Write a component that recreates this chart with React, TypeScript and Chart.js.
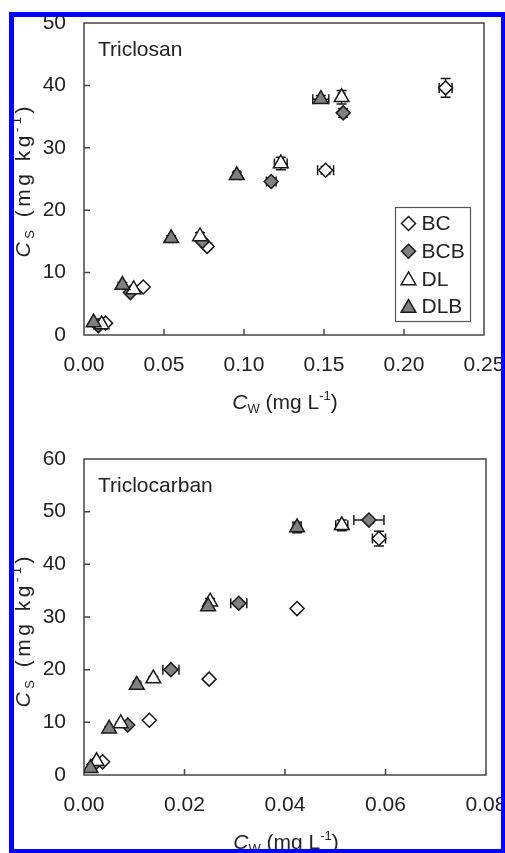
import React, { useEffect, useRef } from 'react';
import { Chart, registerables } from 'chart.js';
import { drawPoint } from 'chart.js/helpers';

Chart.register(...registerables);

// ---------- data ----------
const seriesNames = ['BC', 'BCB', 'DL', 'DLB'];

// Triclosan (Cw mg/L, Cs mg/kg)
const tcsBCx = [0.0135, 0.037, 0.077, 0.151, 0.226];
const tcsBCy = [1.9, 7.7, 14.2, 26.4, 39.6];
const tcsBCxe = [0, 0.001, 0.001, 0.005, 0.004];
const tcsBCye = [0, 0.3, 0.5, 0.6, 1.5];
const tcsBCBx = [0.009, 0.029, 0.074, 0.117, 0.162];
const tcsBCBy = [1.5, 6.8, 15.0, 24.6, 35.6];
const tcsBCBxe = [0, 0.001, 0.001, 0.003, 0.002];
const tcsBCBye = [0, 0.3, 0.4, 0.5, 0.7];
const tcsDLx = [0.011, 0.031, 0.0725, 0.123, 0.161];
const tcsDLy = [1.7, 7.3, 15.8, 27.5, 38.1];
const tcsDLxe = [0, 0.001, 0.002, 0.004, 0.002];
const tcsDLye = [0, 0.3, 0.6, 1.0, 1.1];
const tcsDLBx = [0.006, 0.024, 0.0545, 0.0955, 0.148];
const tcsDLBy = [2.0, 8.0, 15.5, 25.6, 37.8];
const tcsDLBxe = [0, 0.001, 0.001, 0.002, 0.005];
const tcsDLBye = [0, 0.4, 0.4, 0.5, 0.6];

// Triclocarban
const tccBCx = [0.0037, 0.013, 0.0249, 0.0424, 0.0587];
const tccBCy = [2.5, 10.4, 18.2, 31.6, 44.9];
const tccBCxe = [0, 0, 0, 0.0005, 0.0013];
const tccBCye = [0, 0, 0.4, 0.5, 1.4];
const tccBCBx = [0.002, 0.0087, 0.0173, 0.0308, 0.0567];
const tccBCBy = [2.0, 9.5, 20.0, 32.6, 48.4];
const tccBCBxe = [0, 0.0004, 0.0016, 0.0016, 0.003];
const tccBCBye = [0, 0.3, 0.4, 0.5, 0.5];
const tccDLx = [0.0025, 0.0073, 0.0138, 0.0251, 0.0513];
const tccDLy = [2.6, 9.8, 18.3, 32.9, 47.4];
const tccDLxe = [0, 0, 0, 0.0005, 0.0012];
const tccDLye = [0, 0.3, 0.4, 0.6, 1.0];
const tccDLBx = [0.0013, 0.005, 0.0105, 0.0247, 0.0424];
const tccDLBy = [1.3, 8.8, 17.1, 32.0, 47.0];
const tccDLBxe = [0, 0, 0.0006, 0, 0.0008];
const tccDLBye = [0, 0.3, 0.5, 0.5, 1.0];

const tcsXTicks = [0, 0.05, 0.1, 0.15, 0.2, 0.25];
const tcsYTicks = [0, 10, 20, 30, 40, 50];
const tccXTicks = [0, 0.02, 0.04, 0.06, 0.08];
const tccYTicks = [0, 10, 20, 30, 40, 50, 60];

// ---------- styling ----------
const FAMILY = '"Liberation Sans", Arial, sans-serif';
const TXT = '#222';
const AXIS = '#444';
const GRAY = '#808080';

const styles = [
  { pointStyle: 'rectRot', radius: 7, backgroundColor: '#ffffff' },
  { pointStyle: 'rectRot', radius: 7, backgroundColor: GRAY },
  { pointStyle: 'triangle', radius: 8.5, backgroundColor: '#ffffff' },
  { pointStyle: 'triangle', radius: 8.5, backgroundColor: GRAY },
];

function makeDatasets(xs: number[][], ys: number[][], xe: number[][], ye: number[][]) {
  return seriesNames.map((name, i) => ({
    label: name,
    data: xs[i].map((x, j) => ({ x, y: ys[i][j] })),
    xErr: xe[i],
    yErr: ye[i],
    pointStyle: styles[i].pointStyle,
    pointRadius: styles[i].radius,
    pointBackgroundColor: styles[i].backgroundColor,
    pointBorderColor: '#1a1a1a',
    pointBorderWidth: 1.5,
    order: 4 - i,
  }));
}

function richText(
  ctx: CanvasRenderingContext2D, parts: { t: string; f: string; dy: number }[],
  cx: number, y: number, spacing = 0,
) {
  const widths = parts.map((p) => {
    ctx.font = p.f;
    return ctx.measureText(p.t).width + spacing * p.t.length;
  });
  const w = widths.reduce((a, b) => a + b, 0) - spacing;
  let x = cx - w / 2;
  ctx.textAlign = 'left';
  ctx.textBaseline = 'alphabetic';
  parts.forEach((p) => {
    ctx.font = p.f;
    if (spacing === 0) {
      ctx.fillText(p.t, x, y + p.dy);
      x += ctx.measureText(p.t).width;
    } else {
      for (const ch of p.t) {
        ctx.fillText(ch, x, y + p.dy);
        x += ctx.measureText(ch).width + spacing;
      }
    }
  });
}

const big = `21px ${FAMILY}`;
const ital = `italic 21px ${FAMILY}`;
const small = `13px ${FAMILY}`;

const xTitleParts = [
  { t: 'C', f: ital, dy: 0 },
  { t: 'W', f: small, dy: 4 },
  { t: ' (mg L', f: big, dy: 0 },
  { t: '-1', f: small, dy: -9 },
  { t: ')', f: big, dy: 0 },
];
const yTitleParts = [
  { t: 'C', f: ital, dy: 0 },
  { t: 'S', f: small, dy: 4 },
  { t: ' (mg kg', f: big, dy: 0 },
  { t: '-1', f: small, dy: -9 },
  { t: ')', f: big, dy: 0 },
];

const decorPlugin = {
  id: 'decor',
  beforeDatasetsDraw(chart: any) {
    const ctx = chart.ctx;
    const { left, right, top, bottom } = chart.chartArea;
    const xs = chart.scales.x;
    const ys = chart.scales.y;
    ctx.save();
    ctx.strokeStyle = AXIS;
    ctx.lineWidth = 1.5;
    ctx.strokeRect(left, top, right - left, bottom - top);
    ctx.beginPath();
    xs.ticks.forEach((t: any) => {
      const px = xs.getPixelForValue(t.value);
      if (px > left + 1 && px < right - 1) {
        ctx.moveTo(px, bottom);
        ctx.lineTo(px, bottom - 6);
      }
    });
    ys.ticks.forEach((t: any) => {
      const py = ys.getPixelForValue(t.value);
      if (py > top + 1 && py < bottom - 1) {
        ctx.moveTo(left, py);
        ctx.lineTo(left + 6, py);
      }
    });
    ctx.stroke();
    ctx.strokeStyle = '#1a1a1a';
    ctx.lineWidth = 1.5;
    chart.data.datasets.forEach((ds: any) => {
      ds.data.forEach((p: any, j: number) => {
        const px = xs.getPixelForValue(p.x);
        const py = ys.getPixelForValue(p.y);
        const ex = ds.xErr[j] || 0;
        const ey = ds.yErr[j] || 0;
        ctx.beginPath();
        if (ex > 0) {
          const a = xs.getPixelForValue(p.x - ex);
          const b = xs.getPixelForValue(p.x + ex);
          ctx.moveTo(a, py); ctx.lineTo(b, py);
          ctx.moveTo(a, py - 5); ctx.lineTo(a, py + 5);
          ctx.moveTo(b, py - 5); ctx.lineTo(b, py + 5);
        }
        if (ey > 0) {
          const a = ys.getPixelForValue(p.y - ey);
          const b = ys.getPixelForValue(p.y + ey);
          ctx.moveTo(px, a); ctx.lineTo(px, b);
          ctx.moveTo(px - 5, a); ctx.lineTo(px + 5, a);
          ctx.moveTo(px - 5, b); ctx.lineTo(px + 5, b);
        }
        ctx.stroke();
      });
    });
    ctx.restore();
  },
  afterDraw(chart: any, _args: any, opts: any) {
    const ctx = chart.ctx;
    const { left, right, top, bottom } = chart.chartArea;
    ctx.save();
    ctx.fillStyle = TXT;
    ctx.font = big;
    ctx.textAlign = 'left';
    ctx.textBaseline = 'alphabetic';
    ctx.fillText(opts.label, left + 14, top + 33);
    richText(ctx, xTitleParts, (left + right) / 2 + 1, bottom + 74);
    ctx.save();
    ctx.translate(30, (top + bottom) / 2 + opts.yShift);
    ctx.rotate(-Math.PI / 2);
    richText(ctx, yTitleParts, 0, 0, 3.5);
    ctx.restore();
    if (opts.legend) {
      const bx = right - 88.5;
      const by = bottom - 127.5;
      ctx.strokeStyle = '#555';
      ctx.lineWidth = 1.2;
      ctx.strokeRect(bx, by, 75, 114);
      chart.data.datasets.forEach((ds: any, i: number) => {
        const cy = by + 16 + i * 27.7;
        ctx.fillStyle = ds.pointBackgroundColor;
        ctx.strokeStyle = '#1a1a1a';
        ctx.lineWidth = 1.5;
        drawPoint(ctx, { pointStyle: ds.pointStyle, radius: ds.pointRadius, rotation: 0, borderWidth: 1.5 }, bx + 13, cy + (ds.pointStyle === 'triangle' ? 1.5 : 0));
        ctx.fillStyle = TXT;
        ctx.font = big;
        ctx.textAlign = 'left';
        ctx.textBaseline = 'middle';
        ctx.fillText(ds.label, bx + 26, cy + 1);
      });
    }
    ctx.restore();
  },
};

function makeConfig(
  datasets: any[], xTicks: number[], yTicks: number[],
  pad: { top: number; right: number }, xAxisHeight: number, label: string, legend: boolean, yShift: number,
): any {
  const tickFont = { family: FAMILY, size: 21 };
  return {
    type: 'scatter',
    data: { datasets },
    plugins: [decorPlugin],
    options: {
      animation: false,
      responsive: false,
      maintainAspectRatio: false,
      layout: { padding: { left: 0, right: pad.right, top: pad.top, bottom: 0 } },
      plugins: {
        legend: { display: false },
        tooltip: { enabled: false },
        decor: { label, legend, yShift },
      },
      scales: {
        x: {
          type: 'linear',
          min: xTicks[0],
          max: xTicks[xTicks.length - 1],
          afterBuildTicks: (s: any) => { s.ticks = xTicks.map((v) => ({ value: v })); },
          afterFit: (s: any) => { s.height = xAxisHeight; s.paddingLeft = 0; s.paddingRight = 0; },
          ticks: {
            font: tickFont, color: TXT, padding: 18, maxRotation: 0, autoSkip: false,
            callback: (v: number) => v.toFixed(2),
          },
          grid: { display: false, drawTicks: false, drawOnChartArea: false },
          border: { display: false },
        },
        y: {
          type: 'linear',
          min: yTicks[0],
          max: yTicks[yTicks.length - 1],
          afterBuildTicks: (s: any) => { s.ticks = yTicks.map((v) => ({ value: v })); },
          afterFit: (s: any) => { s.width = 84; s.paddingTop = 0; s.paddingBottom = 0; },
          ticks: {
            font: tickFont, color: TXT, padding: 18, autoSkip: false,
            callback: (v: number) => String(v),
          },
          grid: { display: false, drawTicks: false, drawOnChartArea: false },
          border: { display: false },
        },
      },
    },
  };
}

function Panel({ config, top, height }: { config: any; top: number; height: number }) {
  const ref = useRef<HTMLCanvasElement>(null);
  useEffect(() => {
    const chart = new Chart(ref.current as HTMLCanvasElement, config);
    return () => chart.destroy();
  }, []);
  return (
    <canvas
      ref={ref}
      width={505}
      height={height}
      style={{ position: 'absolute', left: 0, top, width: 505, height, display: 'block' }}
    />
  );
}

export default function App() {
  const tcsDatasets = makeDatasets(
    [tcsBCx, tcsBCBx, tcsDLx, tcsDLBx],
    [tcsBCy, tcsBCBy, tcsDLy, tcsDLBy],
    [tcsBCxe, tcsBCBxe, tcsDLxe, tcsDLBxe],
    [tcsBCye, tcsBCBye, tcsDLye, tcsDLBye],
  );
  const tccDatasets = makeDatasets(
    [tccBCx, tccBCBx, tccDLx, tccDLBx],
    [tccBCy, tccBCBy, tccDLy, tccDLBy],
    [tccBCxe, tccBCBxe, tccDLxe, tccDLBxe],
    [tccBCye, tccBCBye, tccDLye, tccDLBye],
  );
  const cfgTop = makeConfig(tcsDatasets, tcsXTicks, tcsYTicks, { top: 23, right: 21 }, 90, 'Triclosan', true, 3);
  const cfgBottom = makeConfig(tccDatasets, tccXTicks, tccYTicks, { top: 34, right: 19 }, 78, 'Triclocarban', false, 15);
  return (
    <>
      <style>{'html,body{margin:0;padding:0;overflow:hidden;background:#fff;}'}</style>
      <div style={{ position: 'relative', width: 505, height: 853, overflow: 'hidden', background: '#fff' }}>
        <Panel config={cfgTop} top={0} height={425} />
        <Panel config={cfgBottom} top={425} height={428} />
        <div
          style={{
            position: 'absolute', left: 9, top: 12, width: 497, height: 842,
            border: '5px solid #0000ff', boxSizing: 'border-box', pointerEvents: 'none', zIndex: 2,
          }}
        />
      </div>
    </>
  );
}
